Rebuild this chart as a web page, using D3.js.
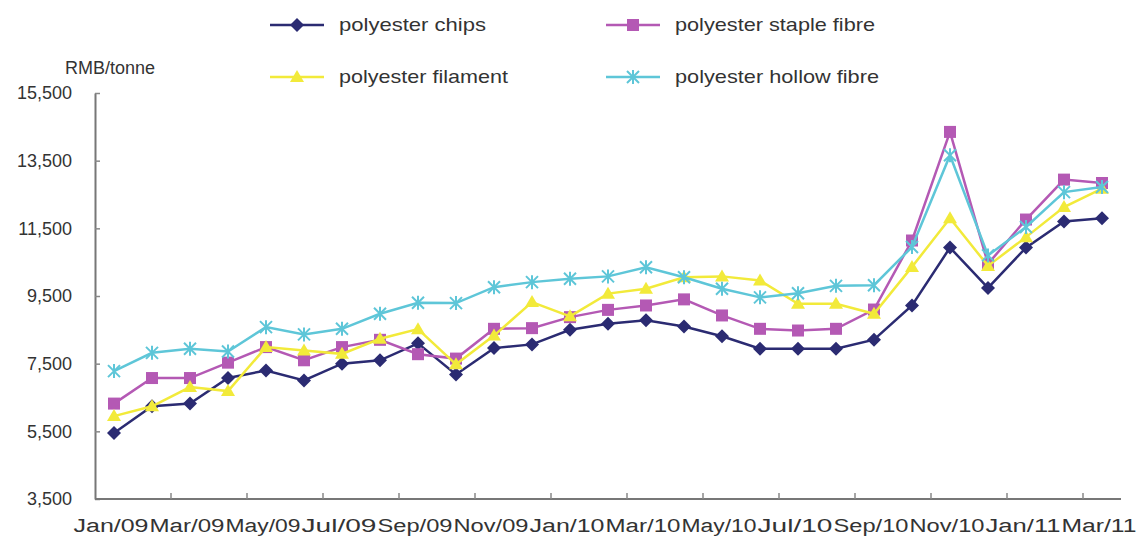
<!DOCTYPE html>
<html>
<head>
<meta charset="utf-8">
<script src="https://cdn.jsdelivr.net/npm/d3@7"></script>
<style>
  body { margin: 0; background: #fff; }
  text { font-family: "Liberation Sans", Arial, sans-serif; fill: #333; }
</style>
</head>
<body>
<svg id="chart" width="1136" height="537"></svg>
<script>
// months along the bottom (one point per month)
const months = ["Jan/09","Feb/09","Mar/09","Apr/09","May/09","Jun/09","Jul/09","Aug/09","Sep/09","Oct/09","Nov/09","Dec/09",
  "Jan/10","Feb/10","Mar/10","Apr/10","May/10","Jun/10","Jul/10","Aug/10","Sep/10","Oct/10","Nov/10","Dec/10",
  "Jan/11","Feb/11","Mar/11"]

// prices, RMB/tonne
const chips = [5450, 6240, 6320, 7075, 7300, 7005, 7500, 7600, 8100, 7180, 7960, 8070, 8500, 8680, 8780, 8600, 8310, 7940, 7940, 7940, 8210, 9220, 10930, 9740, 10930, 11700, 11800]
const stapleFibre = [6320, 7075, 7075, 7530, 7990, 7600, 7990, 8205, 7780, 7650, 8530, 8550, 8875, 9090, 9220, 9400, 8925, 8530, 8480, 8530, 9100, 11140, 14350, 10450, 11760, 12940, 12840]
const filament = [5950, 6240, 6810, 6690, 7990, 7890, 7790, 8235, 8520, 7480, 8330, 9320, 8900, 9570, 9715, 10055, 10080, 9960, 9270, 9270, 8975, 10360, 11800, 10390, 11240, 12130, 12670]
const hollowFibre = [7280, 7820, 7940, 7860, 8580, 8365, 8530, 8975, 9300, 9290, 9760, 9910, 10010, 10080, 10350, 10055, 9715, 9460, 9580, 9800, 9820, 10950, 13660, 10700, 11540, 12570, 12720]

const yTicks = [3500, 5500, 7500, 9500, 11500, 13500, 15500]
const seriesNames = ["polyester chips", "polyester staple fibre", "polyester filament", "polyester hollow fibre"]

// series table built from the arrays above
const series = [
  {name: seriesNames[0], values: chips, color: "#2b2b72", marker: "diamond"},
  {name: seriesNames[1], values: stapleFibre, color: "#b459b4", marker: "square"},
  {name: seriesNames[2], values: filament, color: "#f2ea3a", marker: "triangle"},
  {name: seriesNames[3], values: hollowFibre, color: "#5ec6d8", marker: "star"},
]

const svg = d3.select("#chart")
// plot box (note: "top" is taken by window.top, so use a small object)
const box = {left: 95, right: 1121, top: 93, bottom: 499}

const x = d3.scaleBand().domain(months).range([box.left, box.right]).padding(0)
const xc = d => x(d) + x.bandwidth() / 2
const y = d3.scaleLinear().domain([3500, 15500]).range([box.bottom, box.top])

// y axis (ticks point inward)
const yAxis = d3.axisLeft(y).tickValues(yTicks).tickSizeInner(-5).tickSizeOuter(0)
  .tickFormat(d3.format(","))
const yg = svg.append("g").attr("transform", `translate(${box.left},0)`).call(yAxis)
yg.select(".domain").attr("stroke", "#777").attr("stroke-width", 2)
yg.selectAll(".tick line").attr("stroke", "#888").attr("stroke-width", 1.5)
yg.selectAll(".tick text").attr("x", -23).attr("font-size", 18).attr("fill", "#333")
  .style("font-family", '"Liberation Sans", Arial, sans-serif')

// x axis - drawn by hand since ticks sit between categories every 2 months
const xg = svg.append("g")
xg.append("line").attr("x1", box.left).attr("x2", box.right).attr("y1", box.bottom).attr("y2", box.bottom)
  .attr("stroke", "#777").attr("stroke-width", 2)
const everyOther = months.filter((m, i) => i % 2 == 0)
xg.selectAll(".xtick").data(everyOther.slice(1)).join("line")
  .attr("class", "xtick")
  .attr("x1", d => x(d)).attr("x2", d => x(d))
  .attr("y1", box.bottom).attr("y2", box.bottom - 6)
  .attr("stroke", "#888").attr("stroke-width", 1.5)
xg.selectAll(".xlab").data(everyOther).join("text")
  .attr("class", "xlab")
  .attr("x", d => xc(d) - 3).attr("y", 532)
  .attr("text-anchor", "middle")
  .attr("font-size", 18)
  .attr("fill", "#3a3a3a")
  .attr("textLength", 75).attr("lengthAdjust", "spacingAndGlyphs")
  .text(d => d)

// unit label
svg.append("text").attr("x", 65).attr("y", 74).attr("font-size", 18).text("RMB/tonne")

// marker shapes
function drawMarker(g, type, color, cx, cy) {
  if (type == "diamond") {
    g.append("path").attr("d", `M${cx},${cy - 7}L${cx + 7},${cy}L${cx},${cy + 7}L${cx - 7},${cy}Z`).attr("fill", color)
  } else if (type == "square") {
    g.append("rect").attr("x", cx - 6).attr("y", cy - 6).attr("width", 12).attr("height", 12).attr("fill", color)
  } else if (type == "triangle") {
    g.append("path").attr("d", `M${cx},${cy - 7}L${cx + 7},${cy + 5}L${cx - 7},${cy + 5}Z`).attr("fill", color)
  } else {
    g.append("path").attr("d", `M${cx - 6},${cy - 6}L${cx + 6},${cy + 6}M${cx - 6},${cy + 6}L${cx + 6},${cy - 6}M${cx},${cy - 7}L${cx},${cy + 7}`)
      .attr("stroke", color).attr("stroke-width", 2).attr("fill", "none")
  }
}

const line = d3.line().x((d, i) => xc(months[i])).y(d => y(d))

// lines + markers
series.forEach(s => {
  const g = svg.append("g")
  g.append("path").datum(s.values).attr("d", line)
    .attr("fill", "none").attr("stroke", s.color).attr("stroke-width", 2.5)
  s.values.forEach((v, i) => drawMarker(g, s.marker, s.color, xc(months[i]), y(v)))
})

// legend, 2 x 2
const legendPos = [[270, 25], [606, 25], [270, 77], [606, 77]]
const legendLen = [147, 200, 169, 204]
series.forEach((s, i) => {
  const [lx, ly] = legendPos[i]
  const g = svg.append("g")
  g.append("line").attr("x1", lx).attr("x2", lx + 54).attr("y1", ly).attr("y2", ly)
    .attr("stroke", s.color).attr("stroke-width", 2.5)
  drawMarker(g, s.marker, s.color, lx + 27, ly)
  g.append("text").attr("x", lx + 69).attr("y", ly + 6).attr("font-size", 19)
    .attr("textLength", legendLen[i]).attr("lengthAdjust", "spacingAndGlyphs")
    .text(s.name)
})
</script>
</body>
</html>
